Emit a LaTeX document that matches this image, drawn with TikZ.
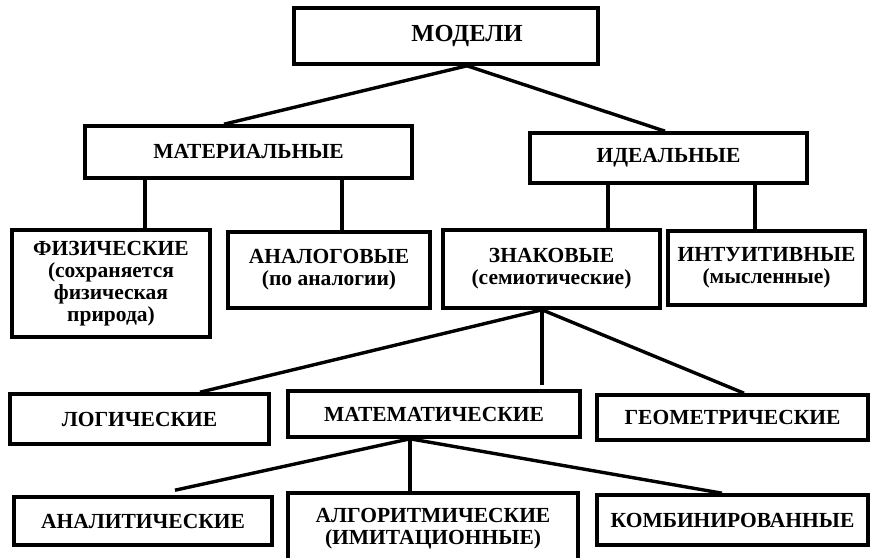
\documentclass[tikz,border=0pt]{standalone}
\usepackage{fontspec}
\setmainfont{Liberation Serif}
\begin{document}
\begin{tikzpicture}[x=1pt,y=-1pt,
  box/.style={draw,line width=3.6pt,rectangle,inner sep=0pt,align=center,
    font=\bfseries\fontsize{21.5}{22}\selectfont},
  link/.style={line width=3.4pt}]
\useasboundingbox (0,0) rectangle (870,557);
% top level
\node[box,minimum width=304pt,minimum height=56pt,font=\bfseries\fontsize{24.5}{26}\selectfont] (mod) at (446,36) {\hspace*{42pt}МОДЕЛИ};
% second level
\node[box,minimum width=327pt,minimum height=52pt] (mat) at (248.5,152) {МАТЕРИАЛЬНЫЕ};
\node[box,minimum width=277pt,minimum height=50pt] (ide) at (668.5,158) {ИДЕАЛЬНЫЕ};
% third level
\node[box,minimum width=198pt,minimum height=107pt] (fiz) at (111,283.5) {ФИЗИЧЕСКИЕ\\(сохраняется\\физическая\\природа)};
\node[box,minimum width=202pt,minimum height=76pt] (ana) at (329,270) {АНАЛОГОВЫЕ\\(по аналогии)};
\node[box,minimum width=217pt,minimum height=78pt] (zna) at (551.5,269) {ЗНАКОВЫЕ\\(семиотические)};
\node[box,minimum width=197pt,minimum height=74pt] (int) at (766.5,268) {ИНТУИТИВНЫЕ\\(мысленные)};
% fourth level
\node[box,minimum width=259pt,minimum height=50pt] (log) at (139.5,419) {ЛОГИЧЕСКИЕ};
\node[box,minimum width=292pt,minimum height=46pt] (mtm) at (434,414) {МАТЕМАТИЧЕСКИЕ};
\node[box,minimum width=271pt,minimum height=45pt] (geo) at (732.5,417.5) {ГЕОМЕТРИЧЕСКИЕ};
% fifth level
\node[box,minimum width=258pt,minimum height=48pt] (anl) at (143,521) {АНАЛИТИЧЕСКИЕ};
\node[box,minimum width=290pt,minimum height=72pt,anchor=north] (alg) at (433,491) {АЛГОРИТМИЧЕСКИЕ\\(ИМИТАЦИОННЫЕ)};
\node[box,minimum width=271pt,minimum height=50pt] (kom) at (732.5,520) {КОМБИНИРОВАННЫЕ};
% connectors
\draw[link] ([xshift=21pt]mod.south) -- ([xshift=-24.5pt]mat.north);
\draw[link] ([xshift=21pt]mod.south) -- ([xshift=-3.5pt]ide.north);
\draw[link] ([xshift=-103.5pt]mat.south) -- ([xshift=34pt]fiz.north);
\draw[link] ([xshift=93.5pt]mat.south) -- ([xshift=13pt]ana.north);
\draw[link] ([xshift=-60.5pt]ide.south) -- ([xshift=56.5pt]zna.north);
\draw[link] ([xshift=86.5pt]ide.south) -- ([xshift=-11.5pt]int.north);
\draw[link] ([xshift=-9.5pt]zna.south) -- ([xshift=60.5pt]log.north);
\draw[link] ([xshift=-9.5pt]zna.south) -- ([xshift=108pt,yshift=4pt]mtm.north);
\draw[link] ([xshift=-9.5pt]zna.south) -- ([xshift=11.5pt]geo.north);
\draw[link] ([xshift=-24pt]mtm.south) -- ([xshift=32pt,yshift=5pt]anl.north);
\draw[link] ([xshift=-24pt]mtm.south) -- ([xshift=-23pt]alg.north);
\draw[link] ([xshift=-24pt]mtm.south) -- ([xshift=-10.5pt]kom.north);
\end{tikzpicture}
\end{document}
